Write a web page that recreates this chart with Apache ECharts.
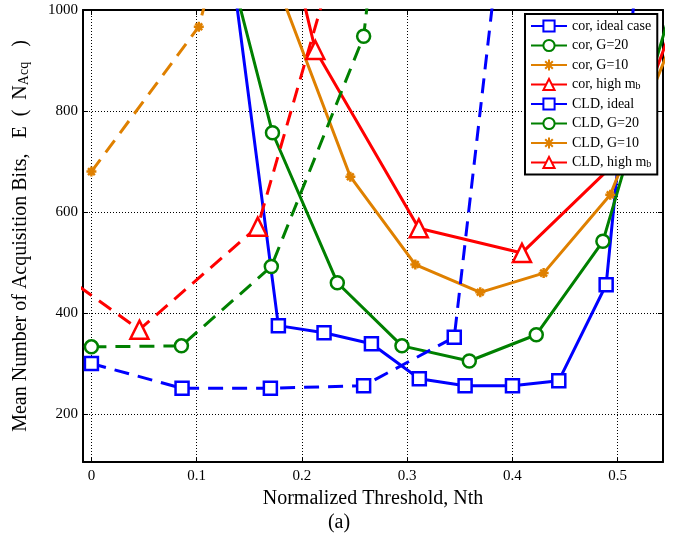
<!DOCTYPE html>
<html>
<head>
<meta charset="utf-8">
<script src="https://cdn.jsdelivr.net/npm/echarts@6/dist/echarts.min.js"></script>
<style>
  html, body { margin: 0; padding: 0; background: #fff; }
  #chart { width: 678px; height: 537px; }
</style>
</head>
<body>
<div id="chart"></div>
<script>
// x positions and mean acquisition bits
var corIdealX = [0.133, 0.1776, 0.221, 0.266, 0.3115, 0.355, 0.4, 0.444, 0.489, 0.533];
var corIdealY = [1092, 375, 361, 339, 270, 256, 256, 266, 456, 1390];
var corG20X = [0.109, 0.172, 0.2336, 0.295, 0.359, 0.4226, 0.4859, 0.549];
var corG20Y = [1266, 757, 460, 335, 305, 357, 542, 990];
var corG10X = [0.184, 0.246, 0.3077, 0.3694, 0.4296, 0.4929, 0.554];
var corG10Y = [1010, 670, 496, 441, 479, 634, 950];
var corHighX = [0.115, 0.2127, 0.311, 0.409, 0.507, 0.605];
var corHighY = [1770, 921, 568, 519, 716, 1266];

var cldIdealX = [0, 0.0861, 0.170, 0.2586, 0.3447, 0.431];
var cldIdealY = [300, 251, 251, 256, 352, 1920];
var cldG20X = [0, 0.0855, 0.1709, 0.2586, 0.344];
var cldG20Y = [333, 335, 492, 948, 2500];
var cldG10X = [0, 0.102, 0.204];
var cldG10Y = [680, 967, 1757];
var cldHighX = [-0.067, 0.0456, 0.158, 0.271];
var cldHighY = [535, 367, 571, 1389];

var xTicks = [0, 0.1, 0.2, 0.3, 0.4, 0.5];
var yTicks = [200, 400, 600, 800, 1000];

var names = ['cor, ideal case', 'cor, G=20', 'cor, G=10', 'cor, high m_b',
             'CLD, ideal', 'CLD, G=20', 'CLD, G=10', 'CLD, high m_b'];

var blue = '#0000ff', green = '#008000', orange = '#df8000', red = '#ff0000';
var serif = 'Liberation Serif, Times New Roman, serif';
var star = 'path://M0,5 L10,5 M5,0 L5,10 M1.6,1.6 L8.4,8.4 M1.6,8.4 L8.4,1.6';

function pairs(xs, ys) {
  return xs.map(function(x, i) { return [x, ys[i]]; });
}

function mk(name, xs, ys, color, symbol, size, dashed) {
  return {
    name: name,
    type: 'line',
    data: pairs(xs, ys),
    clip: true,
    symbol: symbol,
    symbolSize: size,
    showAllSymbol: true,
    lineStyle: { color: color, width: 3, type: dashed ? [15, 9] : 'solid' },
    itemStyle: { color: symbol === star ? color : '#fff', borderColor: color, borderWidth: 2.5 },
    emphasis: { disabled: true },
    z: dashed ? 3 : 2
  };
}

var chart = echarts.init(document.getElementById('chart'), null, { renderer: 'canvas' });

var axisCommon = {
  type: 'value',
  axisLine: { show: true, onZero: false, lineStyle: { color: '#000', width: 2 } },
  axisTick: { show: true, inside: true, length: 5, lineStyle: { color: '#000', width: 1 } }
};

chart.setOption({
  animation: false,
  backgroundColor: '#fff',
  title: {
    text: '(a)',
    left: 'center',
    top: 508,
    textStyle: { fontFamily: serif, fontSize: 20, fontWeight: 'normal', color: '#000' }
  },
  grid: { left: 83, right: 15, top: 10, bottom: 75 },
  legend: {
    orient: 'vertical',
    left: 525,
    top: 14,
    data: names,
    itemWidth: 36,
    itemHeight: 14,
    itemGap: 5.5,
    padding: [5, 6, 5, 5],
    backgroundColor: '#fff',
    borderColor: '#000',
    borderWidth: 2,
    lineStyle: { type: 'solid' },
    formatter: function(n) {
      return n.indexOf('_b') > 0 ? n.replace('m_b', 'm') + '{s|b}' : n;
    },
    textStyle: {
      fontFamily: serif, fontSize: 14, color: '#000',
      rich: { s: { fontFamily: serif, fontSize: 10, verticalAlign: 'bottom', lineHeight: 4 } }
    }
  },
  xAxis: [
    Object.assign({}, axisCommon, {
      min: -0.008, max: 0.543,
      position: 'bottom',
      name: 'Normalized Threshold, Nth',
      nameLocation: 'middle',
      nameGap: 26,
      nameTextStyle: { fontFamily: serif, fontSize: 20, color: '#000' },
      axisTick: Object.assign({}, axisCommon.axisTick, { customValues: xTicks }),
      axisLabel: { customValues: xTicks, fontFamily: serif, fontSize: 15, color: '#000', margin: 7 },
      splitLine: { show: true, lineStyle: { color: '#000', width: 1, type: [1, 2] } }
    }),
    Object.assign({}, axisCommon, {
      min: -0.008, max: 0.543,
      position: 'top',
      axisTick: Object.assign({}, axisCommon.axisTick, { customValues: xTicks }),
      axisLabel: { show: false },
      splitLine: { show: false }
    })
  ],
  yAxis: [
    Object.assign({}, axisCommon, {
      min: 105, max: 1000,
      position: 'left',
      name: '{a|Mean Number of Acquisition Bits,   E  (  N}{s|Acq}{a|   )}',
      nameLocation: 'middle',
      nameGap: 52,
      nameTextStyle: {
        fontFamily: serif, fontSize: 20, color: '#000',
        rich: {
          a: { fontFamily: serif, fontSize: 20, color: '#000' },
          s: { fontFamily: serif, fontSize: 14, color: '#000', verticalAlign: 'bottom', lineHeight: 4 }
        }
      },
      axisTick: Object.assign({}, axisCommon.axisTick, { customValues: yTicks }),
      axisLabel: {
        customValues: yTicks, fontFamily: serif, fontSize: 15, color: '#000', margin: 5,
        formatter: function(v) { return String(v); }
      },
      splitLine: { show: true, lineStyle: { color: '#000', width: 1, type: [1, 2] } }
    }),
    Object.assign({}, axisCommon, {
      min: 105, max: 1000,
      position: 'right',
      axisTick: Object.assign({}, axisCommon.axisTick, { customValues: yTicks }),
      axisLabel: { show: false },
      splitLine: { show: false }
    })
  ],
  series: [
    mk(names[0], corIdealX, corIdealY, blue, 'rect', 13, false),
    mk(names[1], corG20X, corG20Y, green, 'circle', 13, false),
    mk(names[2], corG10X, corG10Y, orange, star, 10, false),
    mk(names[3], corHighX, corHighY, red, 'triangle', 18, false),
    mk(names[4], cldIdealX, cldIdealY, blue, 'rect', 13, true),
    mk(names[5], cldG20X, cldG20Y, green, 'circle', 13, true),
    mk(names[6], cldG10X, cldG10Y, orange, star, 10, true),
    mk(names[7], cldHighX, cldHighY, red, 'triangle', 18, true)
  ]
});

window.addEventListener('resize', function() { chart.resize(); });
</script>
</body>
</html>
